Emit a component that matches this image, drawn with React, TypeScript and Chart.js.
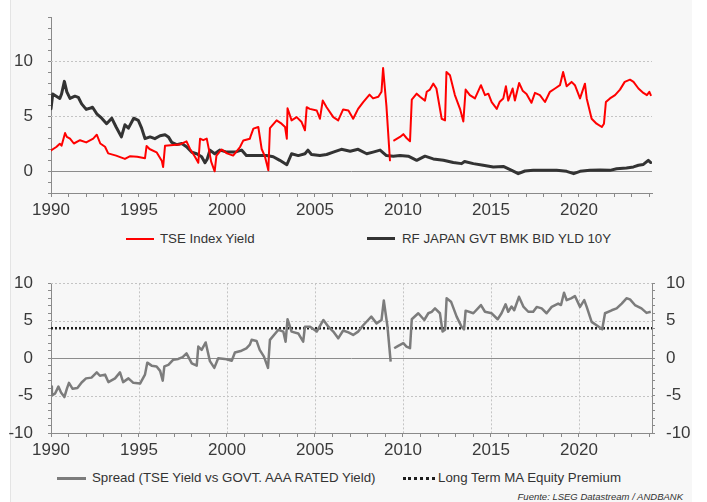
import React, { useEffect, useRef } from "react";
import { Chart, registerables } from "chart.js";

Chart.register(...registerables);

// ---------- DATA ----------
const tseYears = [
  1990.0, 1990.3, 1990.5, 1990.6, 1990.8, 1990.9, 1991.08, 1991.3, 1991.65, 1992.0,
  1992.4, 1992.6, 1992.8, 1993.07, 1993.25, 1993.7, 1994.2, 1994.5, 1994.9, 1995.34,
  1995.43, 1995.6, 1996.0, 1996.3, 1996.37, 1996.48, 1996.95, 1997.3, 1997.7, 1997.9,
  1998.18, 1998.37, 1998.47, 1998.65, 1998.85, 1998.98, 1999.1, 1999.3, 1999.4, 1999.7,
  2000.0, 2000.35, 2000.74, 2000.93, 2001.3, 2001.35, 2001.5, 2001.78, 2001.97, 2002.16,
  2002.35, 2002.44, 2002.82, 2003.1, 2003.3, 2003.4, 2003.44, 2003.67, 2003.96, 2004.24,
  2004.43, 2004.53, 2004.7, 2005.1, 2005.28, 2005.44, 2005.66, 2006.04, 2006.32, 2006.6,
  2006.9, 2007.17, 2007.45, 2007.74, 2008.1, 2008.3, 2008.6, 2008.78, 2008.87, 2009.06,
  2009.26, 2009.4, 2009.5, 2009.83, 2010.02, 2010.2, 2010.4, 2010.5, 2010.78, 2010.97,
  2011.25, 2011.35, 2011.53, 2011.72, 2011.9, 2012.2, 2012.39, 2012.47, 2012.67, 2012.95,
  2013.24, 2013.43, 2013.56, 2013.8, 2014.09, 2014.43, 2014.66, 2014.85, 2015.04, 2015.33,
  2015.5, 2015.7, 2015.85, 2015.98, 2016.23, 2016.36, 2016.6, 2016.8, 2017.02, 2017.3,
  2017.5, 2017.78, 2018.07, 2018.35, 2018.64, 2018.92, 2019.1, 2019.3, 2019.58, 2019.77,
  2020.06, 2020.34, 2020.44, 2020.72, 2021.0, 2021.3, 2021.42, 2021.53, 2021.76, 2022.05,
  2022.33, 2022.6, 2022.9, 2023.1, 2023.38, 2023.66, 2023.86, 2024.0, 2024.08,
];
const tseValues: (number | null)[] = [
  1.87, 2.18, 2.48, 2.3, 3.45, 3.1, 2.94, 2.5, 2.8, 2.6,
  2.94, 3.3, 2.5, 2.2, 1.6, 1.4, 1.1, 1.35, 1.3, 1.15,
  2.27, 2.0, 1.7, 0.9, 0.36, 2.3, 2.36, 2.4, 2.7, 2.0,
  1.3, 0.75, 2.94, 2.8, 2.94, 1.9, 0.85, -0.03, 1.4, 1.96,
  1.6, 1.4, 2.18, 2.78, 2.94, 3.2, 3.85, 4.0, 2.0, 1.3,
  0.06, 3.9, 4.6, 4.3, 4.0, 2.94, 5.7, 4.6, 4.9, 4.45,
  3.7, 5.8, 5.65, 5.5, 4.75, 6.4, 5.8, 4.9, 4.6, 5.6,
  5.5, 4.75, 5.65, 6.27, 6.94, 6.6, 6.75, 7.2, 9.36, 5.9,
  0.97, null, 2.78, 3.1, 3.35, 3.0, 2.7, 6.48, 7.03, 6.75,
  6.4, 7.2, 7.4, 7.94, 7.5, 4.75, 4.6, 9.0, 8.7, 6.9,
  5.65, 4.5, 7.4, 6.9, 6.6, 7.8, 6.9, 7.03, 6.27, 5.65,
  6.3, 6.6, 7.7, 6.4, 7.5, 6.4, 8.0, 7.3, 7.0, 6.2,
  7.1, 6.9, 6.27, 7.2, 7.5, 7.8, 9.0, 7.7, 8.1, 7.8,
  6.6, 7.94, 6.6, 4.75, 4.3, 4.0, 4.3, 6.27, 6.6, 6.9,
  7.4, 8.1, 8.3, 8.1, 7.5, 7.1, 6.9, 7.2, 6.9,
];

const jgbYears = [
  1990.0, 1990.1, 1990.3, 1990.5, 1990.6, 1990.76, 1990.9, 1991.08, 1991.36, 1991.55,
  1991.74, 1992.0, 1992.2, 1992.36, 1992.6, 1992.88, 1993.16, 1993.45, 1993.7, 1994.0,
  1994.2, 1994.4, 1994.7, 1994.96, 1995.15, 1995.34, 1995.63, 1995.9, 1996.2, 1996.48,
  1996.67, 1996.86, 1997.14, 1997.43, 1997.7, 1998.0, 1998.28, 1998.56, 1998.75, 1998.88,
  1999.03, 1999.3, 1999.6, 2000.0, 2000.45, 2000.83, 2001.1, 2001.68, 2002.25, 2002.63,
  2003.0, 2003.4, 2003.67, 2004.05, 2004.43, 2004.6, 2004.8, 2005.28, 2005.66, 2006.04,
  2006.5, 2007.0, 2007.45, 2007.94, 2008.3, 2008.7, 2009.06, 2009.45, 2009.83, 2010.3,
  2010.78, 2011.25, 2011.72, 2012.3, 2012.86, 2013.33, 2013.5, 2014.0, 2014.56, 2015.13,
  2015.7, 2016.18, 2016.55, 2016.93, 2017.4, 2017.97, 2018.73, 2019.3, 2019.7, 2020.06,
  2020.62, 2021.2, 2021.76, 2022.14, 2022.7, 2023.1, 2023.38, 2023.66, 2023.94, 2024.08,
];
const jgbValues = [
  5.66, 7.0, 6.8, 6.6, 7.0, 8.15, 7.2, 6.6, 6.8, 6.7,
  6.1, 5.6, 5.7, 5.8, 5.2, 4.8, 4.3, 4.8, 4.0, 3.1,
  4.2, 3.9, 4.8, 4.6, 3.9, 2.94, 3.1, 2.94, 3.2, 3.3,
  3.1, 2.6, 2.4, 2.5, 2.2, 1.7, 1.57, 1.3, 0.75, 1.1,
  1.9, 1.57, 1.9, 1.72, 1.72, 1.9, 1.4, 1.4, 1.4, 1.3,
  0.97, 0.57, 1.57, 1.4, 1.57, 1.9, 1.5, 1.4, 1.5, 1.72,
  1.97, 1.8, 1.97, 1.57, 1.72, 1.9, 1.4, 1.35, 1.4, 1.35,
  0.97, 1.35, 1.1, 0.97, 0.77, 0.67, 0.87, 0.67, 0.52, 0.37,
  0.42, 0.06, -0.24, 0.0, 0.06, 0.06, 0.06, -0.03, -0.24, -0.03,
  0.06, 0.1, 0.06, 0.2, 0.27, 0.37, 0.52, 0.6, 0.97, 0.77,
];

const spreadYears = [
  1990.0, 1990.05, 1990.24, 1990.42, 1990.57, 1990.76, 1990.9, 1991.02, 1991.23, 1991.5,
  1991.74, 1991.99, 1992.3, 1992.6, 1992.78, 1993.07, 1993.26, 1993.64, 1993.92, 1994.1,
  1994.4, 1994.68, 1995.06, 1995.34, 1995.47, 1995.72, 1996.0, 1996.2, 1996.35, 1996.44,
  1996.67, 1996.95, 1997.23, 1997.48, 1997.7, 1998.0, 1998.28, 1998.37, 1998.56, 1998.79,
  1999.03, 1999.28, 1999.5, 1999.87, 2000.27, 2000.45, 2000.83, 2001.1, 2001.3, 2001.4,
  2001.68, 2001.86, 2002.1, 2002.33, 2002.44, 2002.92, 2003.2, 2003.33, 2003.44, 2003.67,
  2004.05, 2004.33, 2004.43, 2004.72, 2005.1, 2005.48, 2005.76, 2006.04, 2006.32, 2006.6,
  2006.9, 2007.17, 2007.45, 2007.74, 2008.02, 2008.2, 2008.5, 2008.78, 2008.91, 2009.12,
  2009.3, 2009.4, 2009.5, 2009.73, 2010.02, 2010.2, 2010.4, 2010.5, 2010.87, 2011.21,
  2011.44, 2011.63, 2011.82, 2012.1, 2012.25, 2012.39, 2012.48, 2012.73, 2013.05, 2013.33,
  2013.47, 2013.56, 2014.0, 2014.43, 2014.66, 2015.04, 2015.38, 2015.6, 2015.83, 2015.98,
  2016.17, 2016.32, 2016.59, 2016.84, 2017.12, 2017.4, 2017.6, 2017.88, 2018.16, 2018.45,
  2018.82, 2018.98, 2019.15, 2019.3, 2019.55, 2019.77, 2020.06, 2020.3, 2020.44, 2020.72,
  2021.0, 2021.32, 2021.48, 2021.86, 2022.14, 2022.43, 2022.7, 2022.9, 2023.18, 2023.55,
  2023.84, 2024.08,
];
const spreadValues: (number | null)[] = [
  -3.8, -5.0, -4.7, -3.8, -4.6, -5.2, -4.1, -3.3, -4.1, -4.0,
  -3.25, -2.7, -2.6, -1.9, -2.35, -2.2, -3.2, -2.7, -1.9, -3.2,
  -2.7, -3.3, -3.4, -2.2, -0.6, -1.0, -1.1, -1.7, -3.0, -1.1,
  -0.9, -0.2, -0.1, 0.15, 0.65, -0.7, -1.0, 1.55, 1.1, 2.1,
  -0.4, -1.3, 0.0, -0.1, -0.35, 0.75, 1.0, 1.3, 1.8, 2.45,
  2.3, 1.1, 0.2, -1.3, 2.45, 3.8, 3.55, 2.2, 5.2, 3.55,
  3.3, 2.2, 4.2, 4.2, 3.55, 5.1, 4.2, 3.55, 2.65, 3.7,
  3.45, 3.1, 3.55, 4.4, 5.1, 5.55, 4.65, 5.1, 7.7, 4.2,
  -0.45, null, 1.33, 1.65, 2.0, 1.55, 1.33, 5.2, 6.0, 5.1,
  6.0, 6.2, 6.65, 6.0, 3.55, 3.8, 8.0, 7.55, 5.55, 4.2,
  3.85, 6.35, 6.0, 7.1, 6.2, 6.0, 5.2, 6.0, 7.2, 6.2,
  6.9, 6.4, 8.2, 6.9, 6.2, 6.2, 6.85, 6.65, 6.0, 6.85,
  7.3, 7.1, 8.75, 7.75, 8.0, 8.3, 6.85, 7.75, 6.85, 4.85,
  4.4, 3.85, 6.0, 6.4, 6.65, 7.3, 8.0, 7.85, 7.1, 6.65,
  6.05, 6.2,
];

const premiumYears = [1990, 2024.15];
const premiumValues = [4, 4];

const xMin = 1990;
const xMax = 2024.15;
const yearTickLabels = [1990, 1995, 2000, 2005, 2010, 2015, 2020];
const topYMin = -2;
const topYMax = 14;
const topYLabels = [0, 5, 10];
const bottomYMin = -10;
const bottomYMax = 10;
const bottomYLabels = [-10, -5, 0, 5, 10];

const tseLabel = "TSE Index Yield";
const jgbLabel = "RF JAPAN GVT BMK BID YLD 10Y";
const spreadLabel = "Spread (TSE Yield vs GOVT. AAA RATED Yield)";
const premiumLabel = "Long Term MA Equity Premium";
const sourceText = "Fuente: LSEG Datastream / ANDBANK";

// ---------- STYLE ----------
const FONT = "'Liberation Sans', Arial, Helvetica, sans-serif";
const TICK_COLOR = "#3a3a3a";
const AXIS_COLOR = "#8a8a8a";
const DOT_GRID = "#c4c4c4";

function range(a: number, b: number): number[] {
  const out: number[] = [];
  for (let v = a; v <= b; v++) out.push(v);
  return out;
}

function toPoints(xs: number[], ys: (number | null)[]) {
  return xs.map((x, i) => ({ x, y: ys[i] }));
}

function makeGridPlugin(hDotted: number[], vDotted: number[], zero: boolean) {
  return {
    id: "customGrid",
    beforeDatasetsDraw(chart: any) {
      const { ctx, chartArea } = chart;
      const { left, right, top, bottom } = chartArea;
      const xs = chart.scales.x;
      const ys = chart.scales.y;
      ctx.save();
      ctx.lineWidth = 1;
      ctx.strokeStyle = DOT_GRID;
      ctx.setLineDash([2, 2]);
      hDotted.forEach((v) => {
        const p = Math.round(ys.getPixelForValue(v)) + 0.5;
        ctx.beginPath();
        ctx.moveTo(left, p);
        ctx.lineTo(right, p);
        ctx.stroke();
      });
      vDotted.forEach((v) => {
        const p = Math.round(xs.getPixelForValue(v)) + 0.5;
        ctx.beginPath();
        ctx.moveTo(p, top);
        ctx.lineTo(p, bottom);
        ctx.stroke();
      });
      if (zero) {
        ctx.setLineDash([]);
        ctx.strokeStyle = "#8c8c8c";
        const p = Math.round(ys.getPixelForValue(0)) + 0.5;
        ctx.beginPath();
        ctx.moveTo(left, p);
        ctx.lineTo(right, p);
        ctx.stroke();
      }
      ctx.restore();
    },
  };
}

function xScale(height: number) {
  return {
    type: "linear",
    min: xMin,
    max: xMax,
    afterBuildTicks: (s: any) => {
      s.ticks = range(1990, 2024).map((value) => ({ value }));
    },
    afterFit: (s: any) => {
      s.height = height;
      s.paddingLeft = 0;
      s.paddingRight = 0;
    },
    ticks: {
      autoSkip: false,
      maxRotation: 0,
      padding: 3,
      color: TICK_COLOR,
      font: { family: FONT, size: 17 },
      callback: (v: any) => (yearTickLabels.includes(v) ? String(v) : ""),
    },
    grid: { drawOnChartArea: false, tickLength: 4, color: AXIS_COLOR },
    border: { color: AXIS_COLOR },
  };
}

function yScale(min: number, max: number, labels: number[], width: number, position: string, padding: number) {
  return {
    type: "linear",
    position,
    min,
    max,
    afterBuildTicks: (s: any) => {
      s.ticks = range(min, max).map((value) => ({ value }));
    },
    afterFit: (s: any) => {
      s.width = width;
      s.paddingTop = 0;
      s.paddingBottom = 0;
    },
    ticks: {
      autoSkip: false,
      padding,
      color: TICK_COLOR,
      font: { family: FONT, size: 17 },
      callback: (v: any) => (labels.includes(v) ? String(v) : ""),
    },
    grid: { drawOnChartArea: false, tickLength: 3, color: AXIS_COLOR },
    border: { color: AXIS_COLOR },
  };
}

export default function App() {
  const topRef = useRef<HTMLCanvasElement | null>(null);
  const botRef = useRef<HTMLCanvasElement | null>(null);

  useEffect(() => {
    const top = new Chart(topRef.current as HTMLCanvasElement, {
      type: "line",
      data: {
        datasets: [
          {
            label: tseLabel,
            data: toPoints(tseYears, tseValues),
            borderColor: "#ff0000",
            borderWidth: 2,
            pointRadius: 0,
            spanGaps: false,
            tension: 0,
          },
          {
            label: jgbLabel,
            data: toPoints(jgbYears, jgbValues),
            borderColor: "#333333",
            borderWidth: 3,
            pointRadius: 0,
            tension: 0,
          },
        ],
      },
      options: {
        animation: false,
        responsive: false,
        devicePixelRatio: 1,
        layout: { padding: { top: 17, right: 55, left: 0, bottom: 0 } },
        plugins: { legend: { display: false }, tooltip: { enabled: false } },
        elements: { line: { borderJoinStyle: "round", borderCapStyle: "round" } },
        scales: {
          x: xScale(37) as any,
          y: yScale(topYMin, topYMax, topYLabels, 51, "left", 15) as any,
        },
      },
      plugins: [makeGridPlugin([5, 10], [], true)],
    });

    const bot = new Chart(botRef.current as HTMLCanvasElement, {
      type: "line",
      data: {
        datasets: [
          {
            label: spreadLabel,
            data: toPoints(spreadYears, spreadValues),
            borderColor: "#7c7c7c",
            borderWidth: 2.5,
            pointRadius: 0,
            spanGaps: false,
            tension: 0,
            yAxisID: "y",
          },
          {
            label: premiumLabel,
            data: toPoints(premiumYears, premiumValues),
            borderColor: "#1e1e1e",
            borderWidth: 2.5,
            borderDash: [2, 2],
            borderCapStyle: "butt",
            pointRadius: 0,
            yAxisID: "y",
          },
        ],
      },
      options: {
        animation: false,
        responsive: false,
        devicePixelRatio: 1,
        layout: { padding: { top: 33.33, right: 0, left: 0, bottom: 0 } },
        plugins: { legend: { display: false }, tooltip: { enabled: false } },
        elements: { line: { borderJoinStyle: "round" } },
        scales: {
          x: xScale(27) as any,
          y: yScale(bottomYMin, bottomYMax, bottomYLabels, 51, "left", 15) as any,
          y2: yScale(bottomYMin, bottomYMax, bottomYLabels, 55, "right", 11) as any,
        },
      },
      plugins: [makeGridPlugin([5, -5, 10], [1995, 2000, 2005, 2010, 2015, 2020], true)],
    });

    return () => {
      top.destroy();
      bot.destroy();
    };
  }, []);

  const legendText: React.CSSProperties = {
    position: "absolute",
    fontFamily: FONT,
    fontSize: 13.3,
    lineHeight: "16px",
    color: "#333",
    whiteSpace: "nowrap",
  };

  return (
    <div
      style={{
        position: "absolute",
        left: 0,
        top: 0,
        width: 707,
        height: 502,
        overflow: "hidden",
        background: "#ffffff",
      }}
    >
      <div
        style={{
          position: "absolute",
          left: 10,
          top: 0,
          width: 682,
          height: 502,
          background: "#f7f7f7",
          borderLeft: "1px solid #e4e4e4",
          boxSizing: "border-box",
        }}
      />
      <canvas ref={topRef} width={707} height={230} style={{ position: "absolute", left: 0, top: 0, width: 707, height: 230 }} />
      <canvas ref={botRef} width={707} height={210} style={{ position: "absolute", left: 0, top: 250, width: 707, height: 210 }} />

      {/* top legend */}
      <div style={{ position: "absolute", left: 126, top: 238, width: 28, height: 2, background: "#ff0000" }} />
      <div style={{ ...legendText, left: 160, top: 231 }}>{tseLabel}</div>
      <div style={{ position: "absolute", left: 367, top: 237, width: 28, height: 3, background: "#333333" }} />
      <div style={{ ...legendText, left: 402, top: 231 }}>{jgbLabel}</div>

      {/* bottom legend */}
      <div style={{ position: "absolute", left: 57, top: 477, width: 29, height: 3, background: "#7c7c7c" }} />
      <div style={{ ...legendText, left: 92, top: 470 }}>{spreadLabel}</div>
      <div style={{ position: "absolute", left: 403, top: 477, width: 32, height: 0, borderTop: "3px dotted #1e1e1e" }} />
      <div style={{ ...legendText, left: 438, top: 470 }}>{premiumLabel}</div>

      <div
        style={{
          position: "absolute",
          right: 24,
          top: 491,
          fontFamily: FONT,
          fontSize: 9.5,
          lineHeight: "12px",
          fontStyle: "italic",
          color: "#333",
          whiteSpace: "nowrap",
        }}
      >
        {sourceText}
      </div>
    </div>
  );
}
